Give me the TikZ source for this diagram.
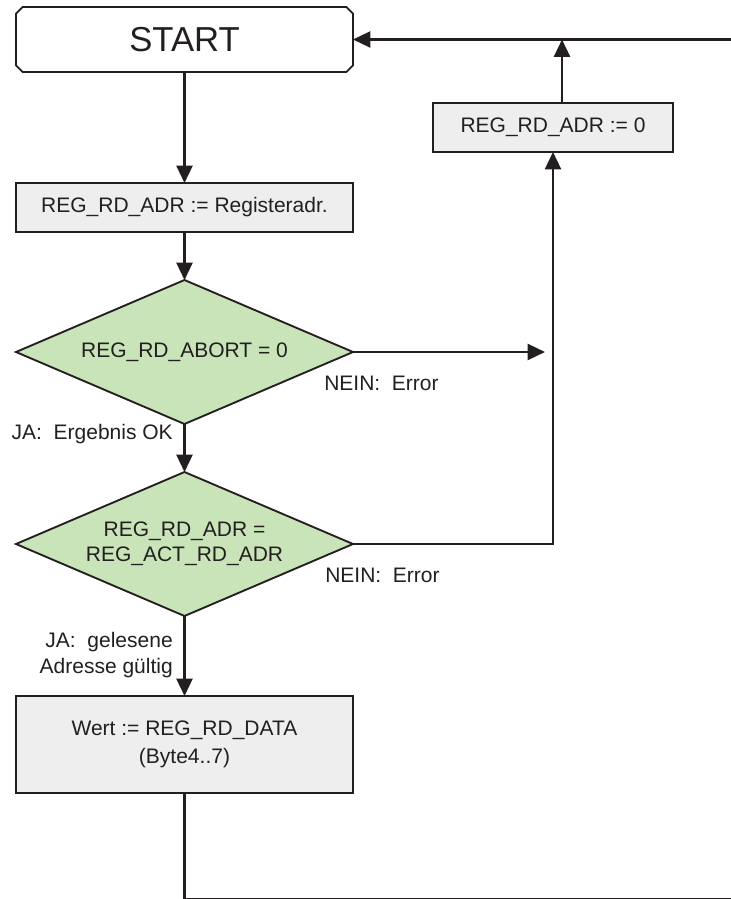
\documentclass[tikz,border=0pt]{standalone}
\usepackage{fontspec}
\setmainfont{Liberation Sans}
\usetikzlibrary{arrows.meta,shapes.geometric}
\definecolor{inkdark}{HTML}{231F20}
\definecolor{boxgray}{HTML}{EEEEEE}
\definecolor{decgreen}{HTML}{C8E4B8}
\tikzset{
    txt/.style={text=inkdark, font=\fontsize{15.75}{19}\selectfont},
    startbox/.style={rectangle, inner sep=0pt, outer sep=0pt,
        minimum width=252.75pt, minimum height=48.75pt, text=inkdark, font=\fontsize{26}{30}\selectfont},
    stepbox/.style={rectangle, txt, draw=inkdark, line width=1.4pt, fill=boxgray, align=center,
        inner sep=0pt, outer sep=0pt, minimum width=252.75pt, minimum height=36.75pt},
    decision/.style={diamond, txt, draw=inkdark, line width=1.4pt, fill=decgreen, align=center,
        aspect=2.34, inner sep=0pt, outer sep=0pt, minimum width=252.75pt, minimum height=108pt},
    lbl/.style={txt, inner sep=0pt},
    flow/.style={draw=inkdark, line width=1.8pt},
    arr/.style={flow, -{Triangle[length=13pt, width=12pt]}}
}
\begin{document}
\begin{tikzpicture}[x=0.75pt, y=-0.75pt]
    \useasboundingbox (0,0) rectangle (731,899);
    % main column
    \node[startbox] (start) at (184.5, 39.5) {START};
    \draw[draw=inkdark, line width=1.4pt]
        ([xshift=5pt]start.north west) -- ([xshift=-5pt]start.north east)
        -- ([yshift=-5pt]start.north east) -- ([yshift=5pt]start.south east)
        -- ([xshift=-5pt]start.south east) -- ([xshift=5pt]start.south west)
        -- ([yshift=5pt]start.south west) -- ([yshift=-5pt]start.north west) -- cycle;
    \node[stepbox] (regadr) at (184.5, 207.5) {REG\_RD\_ADR := Registeradr.};
    \node[decision] (dia1) at (184.5, 352) {REG\_RD\_ABORT = 0};
    \node[decision] (dia2) at (184.5, 544) {REG\_RD\_ADR =\\REG\_ACT\_RD\_ADR};
    \node[stepbox, minimum height=72.75pt] (wert) at (184.5, 744.5) {Wert := REG\_RD\_DATA\\[2pt](Byte4..7)};
    % error branch
    \node[stepbox, minimum width=180pt] (reg0) at (553, 127.5) {REG\_RD\_ADR := 0};
    % branch labels
    \node[lbl, anchor=west] (nein1) at (324, 383) {NEIN:\ \ Error};
    \node[lbl, anchor=east] (ja1) at (173, 434) {JA:\ \ Ergebnis OK};
    \node[lbl, anchor=west] (nein2) at (325, 575) {NEIN:\ \ Error};
    \node[lbl, anchor=east, align=right] (ja2) at (173, 655) {JA:\ \ gelesene\\Adresse gültig};
    % free ends
    \coordinate (loopin) at (740, 39.5);
    \coordinate (join1) at (545, 352);
    \coordinate (loopout) at (740, 899.5);
    % connectors
    \draw[arr] (loopin) -- (start.east);
    \draw[arr] ([xshift=6.75pt]reg0.north) -- ([xshift=6.75pt]reg0.north |- start.east);
    \draw[arr] (start.south) -- (regadr.north);
    \draw[arr] (regadr.south) -- (dia1.north);
    \draw[arr] (dia1.east) -- (join1);
    \draw[arr] (dia1.south) -- (dia2.north);
    \draw[arr] (dia2.east) -| (reg0.south);
    \draw[arr] (dia2.south) -- (wert.north);
    \draw[flow] (wert.south) |- (loopout);
\end{tikzpicture}
\end{document}
